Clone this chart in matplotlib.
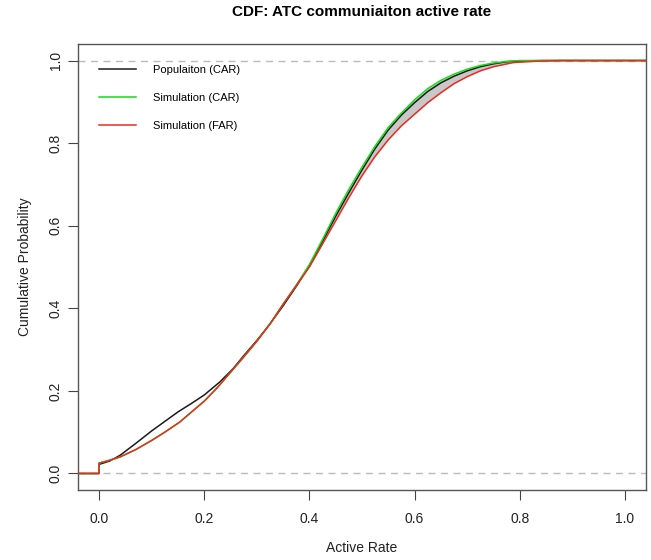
import numpy as np
import matplotlib.pyplot as plt

plt.rcParams['font.family'] = ['Liberation Sans', 'DejaVu Sans']

# values (x = active rate, y = cumulative probability)
pop_x = [-0.04, 0.0, 0.0, 0.02, 0.04, 0.07, 0.1, 0.125, 0.15, 0.175, 0.2, 0.23, 0.255,
         0.275, 0.3, 0.325, 0.35, 0.375, 0.4, 0.425, 0.45, 0.475, 0.5, 0.525, 0.55,
         0.575, 0.6, 0.625, 0.65, 0.675, 0.7, 0.725, 0.75, 0.775, 0.8, 0.85, 1.04]
pop_y = [0.0, 0.0, 0.022, 0.030, 0.044, 0.073, 0.103, 0.126, 0.149, 0.169, 0.190, 0.222, 0.254,
         0.285, 0.322, 0.362, 0.406, 0.453, 0.503, 0.562, 0.623, 0.680, 0.735, 0.787, 0.832,
         0.868, 0.898, 0.925, 0.946, 0.962, 0.975, 0.985, 0.992, 0.997, 0.999, 1.0, 1.0]

sim_car_x = [-0.04, 0.0, 0.0, 0.02, 0.04, 0.07, 0.1, 0.125, 0.154, 0.175, 0.2, 0.225, 0.25,
             0.275, 0.3, 0.325, 0.35, 0.375, 0.4, 0.425, 0.45, 0.475, 0.5, 0.525, 0.55,
             0.575, 0.6, 0.625, 0.65, 0.675, 0.7, 0.725, 0.75, 0.775, 0.8, 1.04]
sim_car_y = [0.0, 0.0, 0.025, 0.032, 0.040, 0.058, 0.080, 0.100, 0.125, 0.148, 0.175, 0.208, 0.245,
             0.282, 0.320, 0.362, 0.410, 0.456, 0.506, 0.567, 0.630, 0.688, 0.742, 0.793, 0.838,
             0.873, 0.905, 0.932, 0.952, 0.967, 0.979, 0.988, 0.994, 0.998, 1.0, 1.0]

sim_far_x = [-0.04, 0.0, 0.0, 0.02, 0.04, 0.07, 0.1, 0.125, 0.154, 0.175, 0.2, 0.225, 0.25,
             0.275, 0.3, 0.325, 0.35, 0.375, 0.4, 0.425, 0.45, 0.475, 0.5, 0.525, 0.55,
             0.575, 0.6, 0.625, 0.65, 0.675, 0.7, 0.725, 0.75, 0.787, 0.825, 0.875, 1.04]
sim_far_y = [0.0, 0.0, 0.025, 0.032, 0.040, 0.058, 0.080, 0.100, 0.125, 0.148, 0.175, 0.208, 0.245,
             0.282, 0.320, 0.362, 0.410, 0.455, 0.500, 0.556, 0.612, 0.668, 0.721, 0.768, 0.808,
             0.842, 0.870, 0.898, 0.922, 0.944, 0.961, 0.975, 0.985, 0.995, 0.998, 1.0, 1.0]

labels = ['Populaiton (CAR)', 'Simulation (CAR)', 'Simulation (FAR)']
ticks = [0.0, 0.2, 0.4, 0.6, 0.8, 1.0]

fig = plt.figure(figsize=(6.51, 5.6), dpi=100)
ax = fig.add_axes([0.1198, 0.125, 0.8725, 0.7964])

# grey band between the CAR curves and the FAR curve in the upper part
fx = np.linspace(0.4, 0.9, 300)
top = np.interp(fx, sim_car_x, sim_car_y)
bot = np.interp(fx, sim_far_x, sim_far_y)
ax.fill_between(fx, bot, top, color='#c8c8c8', lw=0, zorder=1)

ax.axhline(0, color='#bbbbbb', ls=(0, (5, 4)), lw=1, zorder=0)
ax.axhline(1, color='#bbbbbb', ls=(0, (5, 4)), lw=1, zorder=0)

ax.plot(pop_x, pop_y, color='#1a1a1a', lw=1.1, label=labels[0], zorder=3)
ax.plot(sim_car_x, sim_car_y, color='#14dd14', lw=1.1, label=labels[1], zorder=4)
ax.plot(sim_far_x, sim_far_y, color='#ee2a22', lw=1.1, label=labels[2], zorder=5)

ax.set_xlim(-0.04, 1.04)
ax.set_ylim(-0.04, 1.04)
ax.set_xticks(ticks)
ax.set_yticks(ticks)
ax.set_xticklabels([f'{t:.1f}' for t in ticks], fontsize=10, color='#222222')
ax.set_yticklabels([f'{t:.1f}' for t in ticks], fontsize=10, color='#222222',
                   rotation=90, va='center')
ax.tick_params(axis='x', length=7, width=0.8, color='#444444', pad=9)
ax.tick_params(axis='y', length=7, width=0.8, color='#444444', pad=4)
for s in ax.spines.values():
    s.set_color('#555555')
    s.set_linewidth(1.0)

ax.set_xlabel('Active Rate', fontsize=10, color='#222222', labelpad=11)
ax.set_ylabel('Cumulative Probability', fontsize=10, color='#222222', labelpad=12)
ax.set_title('CDF: ATC communiaiton active rate', fontsize=11, fontweight='bold', pad=20)

ax.legend(loc='upper left', bbox_to_anchor=(0.02, 0.975), frameon=False, fontsize=8,
          handlelength=3.3, handletextpad=1.5, labelspacing=1.6)

fig.savefig('out.png', dpi=100)
